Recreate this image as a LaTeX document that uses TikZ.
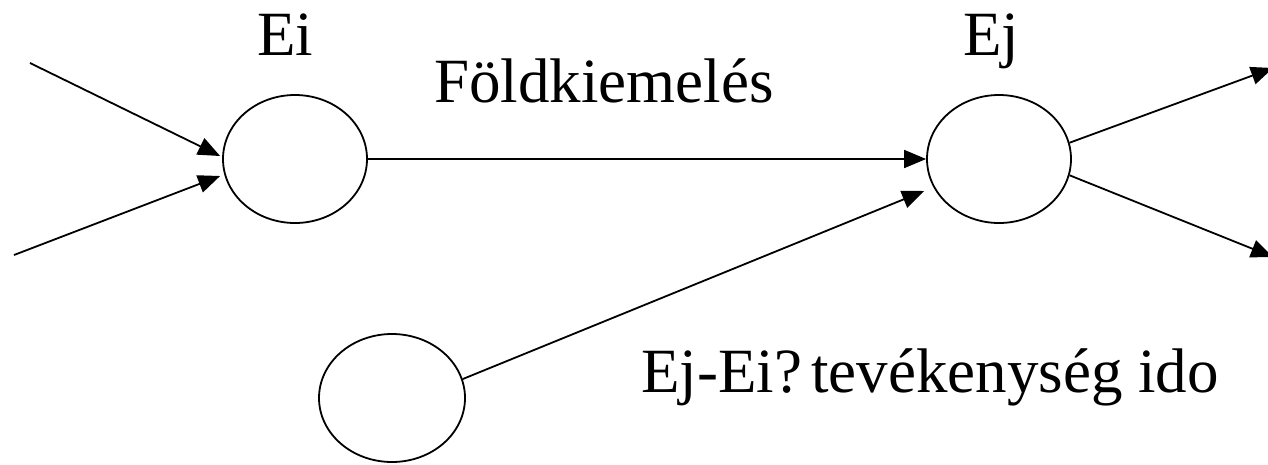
\documentclass[tikz,border=0pt]{standalone}
\usepackage{fontspec}
\setmainfont{Liberation Serif}
\usetikzlibrary{shapes.geometric,arrows.meta}
\begin{document}
\begin{tikzpicture}[x=1pt,y=-1pt,
  evt/.style={draw,ellipse,line width=1.8pt,minimum width=144pt,minimum height=128pt,inner sep=0pt},
  lbl/.style={anchor=base west,inner sep=0pt,font=\fontsize{63}{70}\selectfont},
  conn/.style={line width=1.8pt,-{Triangle[length=22pt,width=18pt]}}]
\useasboundingbox (0,0) rectangle (1268,464);
\node[evt] (Ei) at (295,159) {};
\node[evt] (Ej) at (999,159) {};
\node[evt,minimum width=146pt] (B) at (392,398) {};
\node[lbl] (tEi) at (257,55) {Ei};
\node[lbl] (tEj) at (963,55) {Ej};
\node[lbl] (tF) at (434,102) {Földkiemelés};
\node[lbl] (tB) at (641,392) {Ej-Ei?\hspace{9pt}tevékenység ido};
\coordinate (in1) at (30,63);
\coordinate (in2) at (14,255);
\coordinate (out1) at (1273,68);
\coordinate (out2) at (1273,257);
\draw[conn] (in1) -- ([xshift=-2pt,yshift=3pt]Ei.west);
\draw[conn] (in2) -- ([xshift=-2pt,yshift=-17pt]Ei.west);
\draw[conn] (Ei) -- (Ej);
\draw[conn] (B.15) -- ([xshift=-2pt,yshift=-32pt]Ej.west);
\draw[conn] (Ej.13) -- (out1);
\draw[conn] (Ej.-13) -- (out2);
\end{tikzpicture}
\end{document}
